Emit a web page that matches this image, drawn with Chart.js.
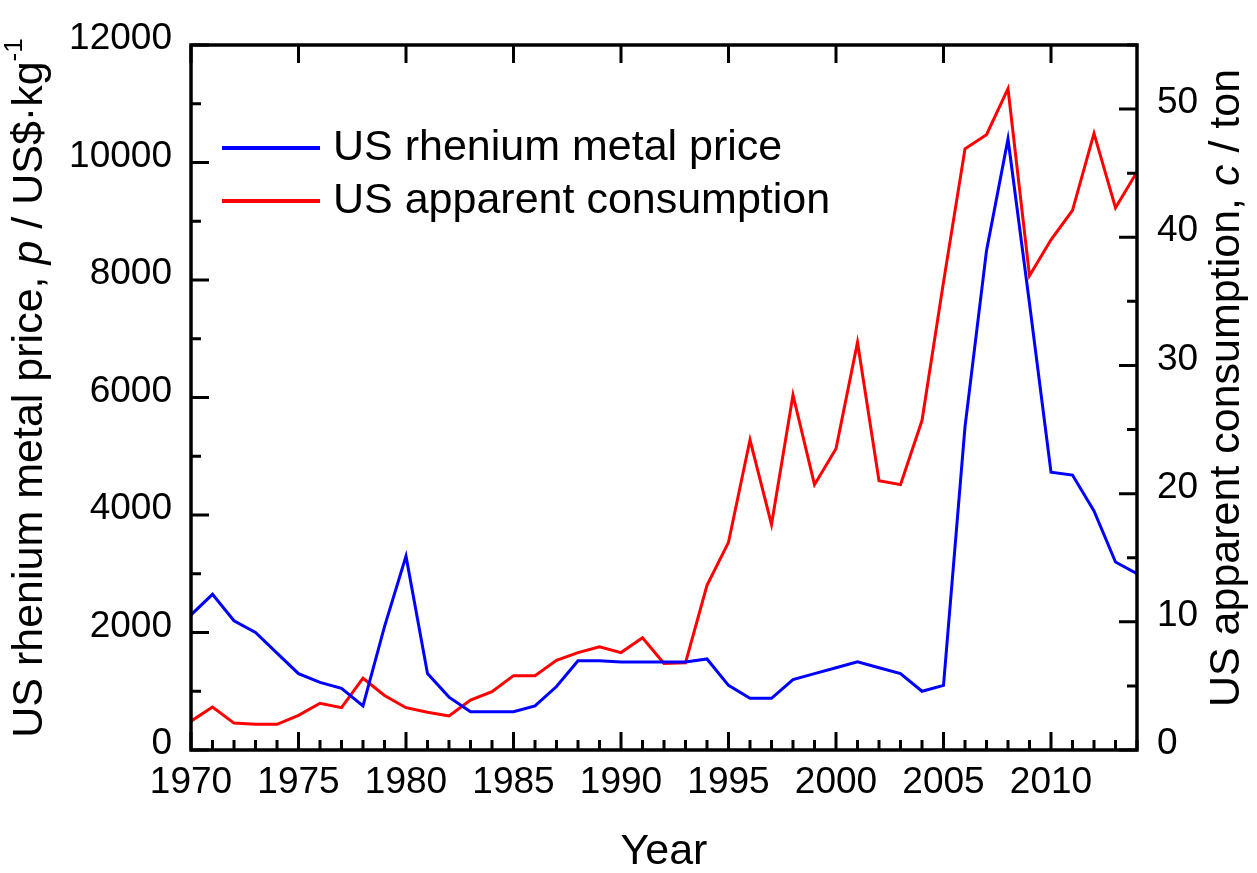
<!DOCTYPE html>
<html>
<head>
<meta charset="utf-8">
<script src="https://cdn.jsdelivr.net/npm/chart.js@4.4.1/dist/chart.umd.min.js"></script>
<style>
    body { margin: 0; background: #ffffff; }
    #wrap { width: 1257px; height: 873px; }
</style>
</head>
<body>
<div id="wrap"><canvas id="rheniumChart"></canvas></div>
<script>
const years = [
    1970, 1971, 1972, 1973, 1974, 1975, 1976, 1977, 1978, 1979,
    1980, 1981, 1982, 1983, 1984, 1985, 1986, 1987, 1988, 1989,
    1990, 1991, 1992, 1993, 1994, 1995, 1996, 1997, 1998, 1999,
    2000, 2001, 2002, 2003, 2004, 2005, 2006, 2007, 2008, 2009,
    2010, 2011, 2012, 2013, 2014
];

// US$ per kg
const rheniumPrice = [
    2300, 2650, 2200, 2000, 1650, 1300, 1150, 1050, 750, 2100,
    3300, 1300, 900, 650, 650, 650, 750, 1080, 1520, 1520,
    1500, 1500, 1500, 1500, 1550, 1100, 880, 880, 1200, 1300,
    1400, 1500, 1400, 1300, 1000, 1100, 5500, 8500, 10400, 7600,
    4730, 4680, 4070, 3200, 3000
];

// tons
const apparentConsumption = [
    2.25, 3.35, 2.1, 2.0, 2.0, 2.7, 3.65, 3.3, 5.6, 4.25,
    3.3, 2.95, 2.65, 3.9, 4.55, 5.8, 5.8, 7.0, 7.6, 8.05,
    7.6, 8.75, 6.75, 6.8, 12.85, 16.2, 24.2, 17.6, 27.7, 20.7,
    23.5, 31.8, 21.0, 20.7, 25.7, 36.5, 46.9, 48.0, 51.6, 37.0,
    39.8, 42.1, 48.1, 42.3, 45.1
];

const yearTicks = [1970, 1975, 1980, 1985, 1990, 1995, 2000, 2005, 2010];
const priceTicks = [0, 2000, 4000, 6000, 8000, 10000, 12000];
const consumptionTicks = [0, 10, 20, 30, 40, 50];
const seriesLabels = ['US rhenium metal price', 'US apparent consumption'];

const FONT = '"Liberation Sans", Arial, Helvetica, sans-serif';

Chart.defaults.font.family = FONT;
Chart.defaults.color = '#000000';

function toPoints(values) {
    return years.map((year, i) => ({ x: year, y: values[i] }));
}

function setTicks(list) {
    return function(scale) {
        scale.ticks = list.map(v => ({ value: v }));
    };
}

// writes a title made of pieces with their own font (italic symbols, superscripts)
function drawRichText(ctx, parts, cx, cy, angle) {
    ctx.save();
    ctx.translate(cx, cy);
    ctx.rotate(angle);
    ctx.textBaseline = 'middle';
    ctx.textAlign = 'left';
    ctx.fillStyle = '#000000';
    let total = 0;
    parts.forEach(p => {
        ctx.font = p.font;
        total += ctx.measureText(p.text).width;
    });
    let x = -total / 2;
    parts.forEach(p => {
        ctx.font = p.font;
        ctx.fillText(p.text, x, p.dy || 0);
        x += ctx.measureText(p.text).width;
    });
    ctx.restore();
}

const frameAndTicks = {
    id: 'frameAndTicks',
    afterDatasetsDraw(chart) {
        const ctx = chart.ctx;
        const area = chart.chartArea;
        const xs = chart.scales.x;
        const yl = chart.scales.y;
        const yr = chart.scales.y1;

        ctx.save();
        ctx.strokeStyle = '#000000';
        ctx.lineCap = 'butt';

        // inward tick marks
        ctx.lineWidth = 3;
        ctx.beginPath();
        for (let yr_ = 1970; yr_ <= 2014; yr_++) {
            const px = xs.getPixelForValue(yr_);
            const len = yr_ % 5 === 0 ? 18 : 10;
            ctx.moveTo(px, area.bottom);
            ctx.lineTo(px, area.bottom - len);
            if (yr_ % 5 === 0) {
                ctx.moveTo(px, area.top);
                ctx.lineTo(px, area.top + 18);
            }
        }
        for (let v = 0; v <= 12000; v += 1000) {
            const py = yl.getPixelForValue(v);
            ctx.moveTo(area.left, py);
            ctx.lineTo(area.left + (v % 2000 === 0 ? 18 : 10), py);
        }
        for (let v = 0; v <= 55; v += 5) {
            const py = yr.getPixelForValue(v);
            ctx.moveTo(area.right, py);
            ctx.lineTo(area.right - (v % 10 === 0 ? 18 : 10), py);
        }
        ctx.stroke();

        // box round the plot
        ctx.lineWidth = 3.5;
        ctx.strokeRect(area.left, area.top, area.right - area.left, area.bottom - area.top);
        ctx.restore();
    },
    afterDraw(chart) {
        const ctx = chart.ctx;
        const area = chart.chartArea;

        // legend in the upper left of the plot
        const rows = [148, 201];
        chart.data.datasets.forEach((ds, i) => {
            ctx.save();
            ctx.strokeStyle = ds.borderColor;
            ctx.lineWidth = 4;
            ctx.beginPath();
            ctx.moveTo(222, rows[i]);
            ctx.lineTo(320, rows[i]);
            ctx.stroke();
            ctx.fillStyle = '#000000';
            ctx.font = '43px ' + FONT;
            ctx.textBaseline = 'middle';
            ctx.textAlign = 'left';
            ctx.fillText(ds.label, 333, rows[i]);
            ctx.restore();
        });

        const big = '43px ' + FONT;
        const ital = 'italic 43px ' + FONT;
        const sup = '26px ' + FONT;

        drawRichText(ctx, [{ text: 'Year', font: big }],
            (area.left + area.right) / 2, 852, 0);

        drawRichText(ctx, [
            { text: 'US rhenium metal price, ', font: big },
            { text: 'p', font: ital },
            { text: ' / US$\u00B7kg', font: big },
            { text: '-1', font: sup, dy: -15 }
        ], 30, 388, -Math.PI / 2);

        drawRichText(ctx, [
            { text: 'US apparent consumption, ', font: big },
            { text: 'c', font: ital },
            { text: ' / ton', font: big }
        ], 1227, 388, -Math.PI / 2);
    }
};

const ctx = document.getElementById('rheniumChart').getContext('2d');
const rheniumChart = new Chart(ctx, {
    type: 'line',
    data: {
        datasets: [
            {
                label: seriesLabels[0],
                data: toPoints(rheniumPrice),
                borderColor: '#0000FF',
                borderWidth: 3,
                pointRadius: 0,
                tension: 0,
                yAxisID: 'y',
            },
            {
                label: seriesLabels[1],
                data: toPoints(apparentConsumption),
                borderColor: '#FF0000',
                borderWidth: 3,
                pointRadius: 0,
                tension: 0,
                yAxisID: 'y1',
            }
        ]
    },
    options: {
        responsive: true,
        maintainAspectRatio: false,
        animation: false,
        layout: {
            padding: { top: 45, left: 0, right: 0, bottom: 0 }
        },
        plugins: {
            legend: { display: false },
            tooltip: { enabled: false }
        },
        scales: {
            x: {
                type: 'linear',
                min: 1970,
                max: 2014,
                afterBuildTicks: setTicks(yearTicks),
                afterFit: function(scale) { scale.height = 123; },
                grid: { display: false, drawTicks: false },
                border: { display: false },
                ticks: {
                    font: { size: 37 },
                    padding: 11,
                    maxRotation: 0,
                    autoSkip: false,
                    callback: function(value) { return String(value); }
                }
            },
            y: {
                position: 'left',
                min: 0,
                max: 12000,
                afterBuildTicks: setTicks(priceTicks),
                afterFit: function(scale) { scale.width = 191; },
                grid: { display: false, drawTicks: false },
                border: { display: false },
                ticks: {
                    font: { size: 37 },
                    padding: 19,
                    labelOffset: -6,
                    callback: function(value) { return String(value); }
                }
            },
            y1: {
                position: 'right',
                min: 0,
                max: 55,
                afterBuildTicks: setTicks(consumptionTicks),
                afterFit: function(scale) { scale.width = 120; },
                grid: { display: false, drawTicks: false },
                border: { display: false },
                ticks: {
                    font: { size: 37 },
                    padding: 20,
                    labelOffset: -6,
                    callback: function(value) { return String(value); }
                }
            }
        }
    },
    plugins: [frameAndTicks]
});
</script>
</body>
</html>
